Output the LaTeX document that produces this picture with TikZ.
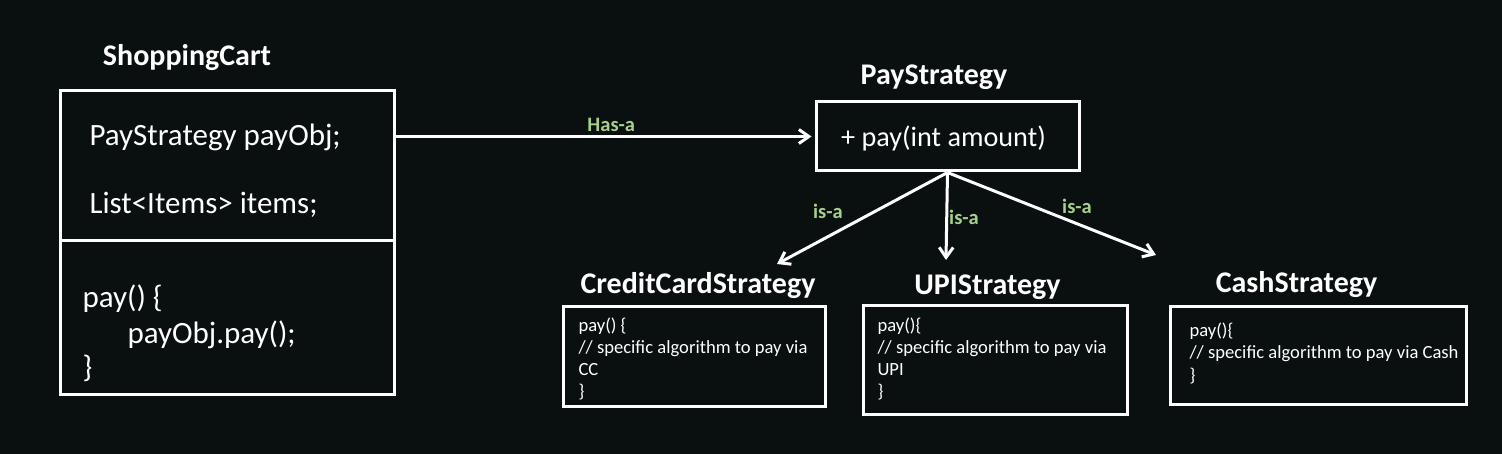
\documentclass[tikz,border=0pt]{standalone}
\usepackage{fontspec}
\setmainfont{Carlito}
\usetikzlibrary{arrows.meta}
\definecolor{bgdark}{RGB}{10,16,16}
\definecolor{relgreen}{RGB}{168,208,141}

\begin{document}
\begin{tikzpicture}[x=1pt, y=-1pt, line width=3pt,
  box/.style={draw=white, rectangle, inner sep=0pt},
  title/.style={text=white, anchor=base, font=\bfseries\fontsize{30}{36}\selectfont},
  field/.style={text=white, anchor=base west, inner sep=0pt, font=\fontsize{31}{36}\selectfont},
  code/.style={text=white, anchor=base west, inner sep=0pt, font=\fontsize{18.6}{22}\selectfont},
  rel/.style={text=relgreen, font=\bfseries\fontsize{20.5}{24}\selectfont},
  arr/.style={draw=white, -{Straight Barb[length=10pt, width=14pt]}}]
  \fill[bgdark] (0,0) rectangle (1502,454);
  \useasboundingbox (0,0) rectangle (1502,454);
  % shopping cart
  \node[title] (cartTitle) at (187,66) {ShoppingCart};
  \node[box, minimum width=334, minimum height=303] (cart) at (227,242.5) {};
  \draw[white] (cart.west |- 0,241) -- (cart.east |- 0,241);
  \node[field] (fPay) at (88,146) {PayStrategy payObj;};
  \node[field] (fItems) at (88,214) {List<Items> items;};
  \node[field] (mPay) at (81,308) {pay() \{};
  \node[field] (mCall) at (126,343) {payObj.pay();};
  \node[field] (mEnd) at (81,377) {\}};
  % strategy interface
  \node[title] (payTitle) at (934,85) {PayStrategy};
  \node[box, minimum width=263, minimum height=69] (pay) at (947.5,136.5) {};
  \node[text=white, anchor=base, font=\fontsize{28.2}{34}\selectfont] (payOp) at (943.5,147) {+ pay(int amount)};
  \draw[arr, shorten >=3pt] (cart.east |- pay.west) -- node[rel, above, pos=0.515] {Has-a} (pay.west);
  % concrete strategies
  \node[title] (ccTitle) at (698,294) {CreditCardStrategy};
  \node[box, minimum width=262, minimum height=100] (cc) at (694,356.7) {};
  \foreach \txt [count=\i from 0] in {pay() \{, // specific algorithm to pay via, CC, \}}
    \node[code] (cc\i) at (577,331+22*\i) {\txt};
  \node[title] (upiTitle) at (987.5,295) {UPIStrategy};
  \node[box, minimum width=264, minimum height=108] (upi) at (995,360) {};
  \foreach \txt [count=\i from 0] in {pay()\{, // specific algorithm to pay via, UPI, \}}
    \node[code] (upi\i) at (876,331+22*\i) {\txt};
  \node[title] (cashTitle) at (1296.5,293) {CashStrategy};
  \node[box, minimum width=296, minimum height=97] (cash) at (1318.7,355.5) {};
  \foreach \txt [count=\i from 0] in {pay()\{, // specific algorithm to pay via Cash, \}}
    \node[code] (cash\i) at (1188,337+22*\i) {\txt};
  % is-a arrows
  \coordinate (ccTip) at (777,264);
  \coordinate (upiTip) at (946,260);
  \coordinate (cashTip) at (1156,255);
  \draw[arr] (pay.south) -- (ccTip);
  \draw[arr] (pay.south) -- (upiTip);
  \draw[arr] (pay.south) -- (cashTip);
  \node[rel] (isaCC) at (828,211) {is-a};
  \node[rel] (isaUPI) at (964,217) {is-a};
  \node[rel] (isaCash) at (1077,206) {is-a};
\end{tikzpicture}
\end{document}
